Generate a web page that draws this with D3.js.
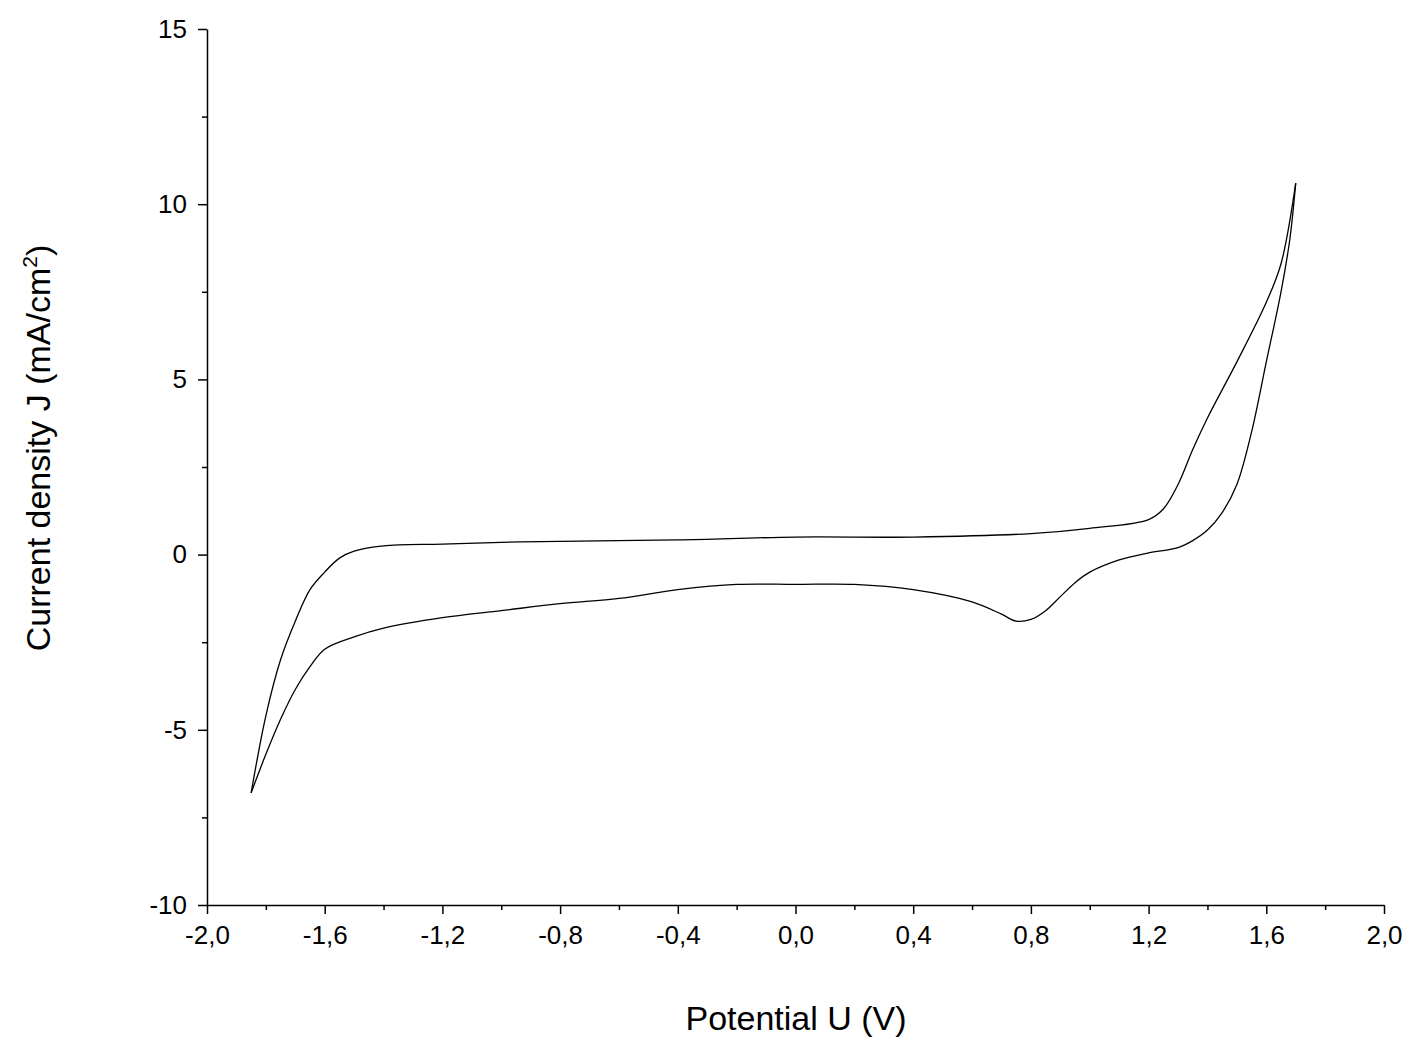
<!DOCTYPE html><html><head><meta charset="utf-8"><script src="https://d3js.org/d3.v7.min.js"></script>
<style>body{margin:0;background:#fff}text{font-family:"Liberation Sans",Arial,sans-serif}</style></head><body>
<svg id="c" width="1419" height="1062"></svg>
<script>
const upperU=[-1.85,-1.8,-1.75,-1.7,-1.65,-1.6,-1.55,-1.5,-1.4,-1.2,-1.0,-0.8,-0.4,0,0.4,0.8,1.0,1.2,1.25,1.3,1.35,1.4,1.5,1.6,1.65,1.7];
const upperJ=[-6.8,-4.6,-3.0,-1.9,-1.0,-0.5,-0.1,0.1,0.25,0.3,0.35,0.38,0.42,0.5,0.5,0.6,0.75,1.0,1.3,2.0,3.0,3.9,5.5,7.2,8.3,10.6];
const lowerU=[1.7,1.68,1.65,1.6,1.55,1.5,1.45,1.4,1.35,1.3,1.2,1.1,1.0,0.95,0.9,0.85,0.8,0.75,0.7,0.6,0.4,0.2,0,-0.2,-0.4,-0.6,-0.8,-1.0,-1.2,-1.4,-1.5,-1.6,-1.65,-1.7,-1.75,-1.8,-1.85];
const lowerJ=[10.6,9,7.5,5.5,3.5,2.0,1.2,0.7,0.4,0.2,0.05,-0.15,-0.5,-0.8,-1.2,-1.6,-1.85,-1.9,-1.7,-1.35,-1.0,-0.85,-0.85,-0.85,-1.0,-1.25,-1.4,-1.6,-1.8,-2.1,-2.35,-2.7,-3.2,-3.85,-4.7,-5.7,-6.8];
const xTicks=[-2,-1.6,-1.2,-0.8,-0.4,0,0.4,0.8,1.2,1.6,2];
const yTicks=[-10,-5,0,5,10,15];
const svg=d3.select("#c");
const x=d3.scaleLinear().domain([-2,2]).range([207,1384]);
const y=d3.scaleLinear().domain([-10,15]).range([905,29]);
const fmt=d=>d.toFixed(1).replace(".",",");
const xa=svg.append("g").attr("transform","translate(0,905)").call(d3.axisBottom(x).tickValues(xTicks).tickFormat(fmt).tickSize(9).tickSizeOuter(0));
svg.append("g").attr("transform","translate(0,905)").call(d3.axisBottom(x).tickValues(d3.range(-1.8,2,0.4)).tickFormat("").tickSize(5)).select(".domain").remove();
const ya=svg.append("g").attr("transform","translate(207,0)").call(d3.axisLeft(y).tickValues(yTicks).tickFormat(d=>String(d)).tickSize(9).tickSizeOuter(0));
svg.append("g").attr("transform","translate(207,0)").call(d3.axisLeft(y).tickValues(d3.range(-7.5,15,2.5).filter(v=>v%5!==0)).tickFormat("").tickSize(5)).select(".domain").remove();
svg.selectAll(".tick text").attr("font-size",26).attr("fill","#000");
ya.selectAll(".tick text").attr("x",-20);
svg.selectAll(".domain,.tick line").attr("stroke","#000").attr("stroke-width",1.5);
xa.selectAll(".tick text").attr("dy","1.05em");
const line2=d3.line().x(d=>x(d[0])).y(d=>y(d[1])).curve(d3.curveCatmullRom);
svg.append("path").attr("d",line2(upperU.map((u,i)=>[u,upperJ[i]]))).attr("fill","none").attr("stroke","#000").attr("stroke-width",1.3);
svg.append("path").attr("d",line2(lowerU.map((u,i)=>[u,lowerJ[i]]))).attr("fill","none").attr("stroke","#000").attr("stroke-width",1.3);
svg.append("text").attr("x",796).attr("y",1030).attr("text-anchor","middle").attr("font-size",34).text("Potential U  (V)");
const yl=svg.append("text").attr("transform","translate(50,448) rotate(-90)").attr("text-anchor","middle").attr("font-size",34);
yl.append("tspan").text("Current density J (mA/cm");
yl.append("tspan").attr("font-size",21).attr("dy",-13).text("2");
yl.append("tspan").attr("dy",13).text(")");
</script></body></html>
